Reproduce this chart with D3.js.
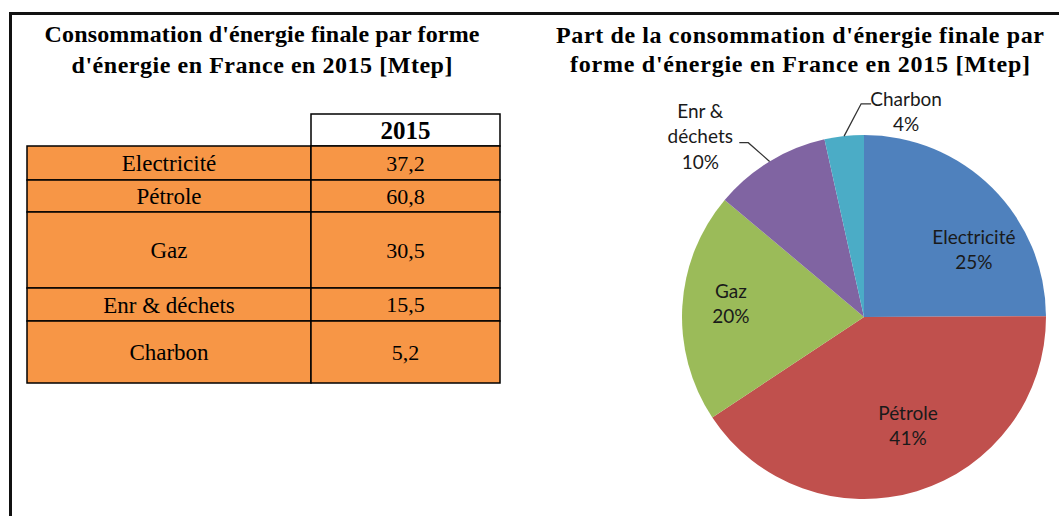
<!DOCTYPE html>
<html>
<head>
<meta charset="utf-8">
<script src="https://cdn.jsdelivr.net/npm/d3@7"></script>
<style>
  html, body { margin: 0; padding: 0; background: #fff; }
  svg { display: block; }
</style>
</head>
<body>
<svg id="chart"></svg>
<script>
// data
const energies = ["Electricité", "Pétrole", "Gaz", "Enr & déchets", "Charbon"];
const values2015 = [37.2, 60.8, 30.5, 15.5, 5.2];
const valueLabels = ["37,2", "60,8", "30,5", "15,5", "5,2"];
const pctLabels = ["25%", "41%", "20%", "10%", "4%"];
const tableYear = "2015";
const leftTitle = ["Consommation d'énergie finale par forme", "d'énergie en France en 2015 [Mtep]"];
const rightTitle = ["Part de la consommation d'énergie finale par", "forme d'énergie en France en 2015 [Mtep]"];

// layout
const w = 1059, h = 516;
const colors = ["#4F81BD", "#C0504D", "#9BBB59", "#8064A2", "#4BACC6"];
const rowHeights = [34, 32, 76, 33, 62];

const svg = d3.select("#chart")
  .attr("width", w)
  .attr("height", h);

// frame
svg.append("path")
  .attr("d", `M10.5,${h} V13.5 H${w}`)
  .attr("fill", "none")
  .attr("stroke", "#111")
  .attr("stroke-width", 3);

// titles
const serif = "'Liberation Serif', 'Times New Roman', serif";
function title(lines, cx, baselines, widths) {
  svg.append("g").selectAll("text")
    .data(lines)
    .join("text")
      .attr("x", cx)
      .attr("y", (d, i) => baselines[i])
      .attr("text-anchor", "middle")
      .attr("font-family", serif)
      .attr("font-weight", "bold")
      .attr("font-size", 24)
      .attr("textLength", (d, i) => widths[i])
      .attr("lengthAdjust", "spacing")
      .attr("fill", "#000")
      .text(d => d);
}
title(leftTitle, 262, [42, 73], [435, 381]);
title(rightTitle, 800, [43, 72], [488, 460]);

// table
const tblX = 27, colX = 311, tblR = 500, headTop = 114, headBot = 146;
const rowTops = [];
rowHeights.reduce((acc, v) => { rowTops.push(acc); return acc + v; }, headBot);

const table = svg.append("g");
table.append("rect")
  .attr("x", colX).attr("y", headTop)
  .attr("width", tblR - colX).attr("height", headBot - headTop)
  .attr("fill", "#fff").attr("stroke", "#000").attr("stroke-width", 1.5);
table.append("text")
  .attr("x", (colX + tblR) / 2).attr("y", (headTop + headBot) / 2)
  .attr("dy", "0.35em")
  .attr("text-anchor", "middle")
  .attr("font-family", serif).attr("font-weight", "bold").attr("font-size", 25)
  .text(tableYear);

const rows = table.selectAll("g.row")
  .data(energies)
  .join("g")
    .attr("class", "row")
    .attr("transform", (d, i) => `translate(0,${rowTops[i]})`);
rows.append("rect")
  .attr("x", tblX).attr("width", colX - tblX)
  .attr("height", (d, i) => rowHeights[i])
  .attr("fill", "#F79646").attr("stroke", "#000").attr("stroke-width", 1.5);
rows.append("rect")
  .attr("x", colX).attr("width", tblR - colX)
  .attr("height", (d, i) => rowHeights[i])
  .attr("fill", "#F79646").attr("stroke", "#000").attr("stroke-width", 1.5);
rows.append("text")
  .attr("x", (tblX + colX) / 2)
  .attr("y", (d, i) => rowHeights[i] / 2)
  .attr("dy", "0.35em")
  .attr("text-anchor", "middle")
  .attr("font-family", serif).attr("font-size", 23)
  .text(d => d);
rows.append("text")
  .attr("x", (colX + tblR) / 2)
  .attr("y", (d, i) => rowHeights[i] / 2)
  .attr("dy", "0.35em")
  .attr("text-anchor", "middle")
  .attr("font-family", serif).attr("font-size", 22)
  .text((d, i) => valueLabels[i]);

// pie
const cx = 864, cy = 317, r = 182;
const pieData = energies.map((name, i) => ({ name, value: values2015[i], pct: pctLabels[i], i }));
const arcs = d3.pie().sort(null).value(d => d.value)(pieData);
const arc = d3.arc().innerRadius(0).outerRadius(r);
const inArc = d3.arc().innerRadius(r * 0.7).outerRadius(r * 0.7);
const edgeArc = d3.arc().innerRadius(r).outerRadius(r);
const outArc = d3.arc().innerRadius(r * 1.3).outerRadius(r * 1.3);

const pie = svg.append("g").attr("transform", `translate(${cx},${cy})`);
pie.selectAll("path.slice")
  .data(arcs)
  .join("path")
    .attr("class", "slice")
    .attr("d", arc)
    .attr("fill", d => colors[d.data.i]);

// label placement tweaks (Excel "best fit")
const labelLayout = {
  "Electricité": { nudge: [20, 23] },
  "Pétrole": { nudge: [7, -13] },
  "Gaz": { nudge: [-6, -6] },
  "Enr & déchets": { outside: true, nudge: [-41, 22], lines: ["Enr &", "déchets"], elbow: [48, 6], end: [39, 6] },
  "Charbon": { outside: true, nudge: [68, 30], elbow: [-45, -8], end: [-35, -8] }
};

const lineH = 25.5;
arcs.forEach(d => {
  const lay = labelLayout[d.data.name];
  const base = lay.outside ? outArc.centroid(d) : inArc.centroid(d);
  const lx = base[0] + lay.nudge[0], ly = base[1] + lay.nudge[1];
  const lines = (lay.lines || [d.data.name]).concat([d.data.pct]);
  const t = pie.append("text")
    .attr("text-anchor", "middle")
    .attr("font-family", "Lato, 'Open Sans', sans-serif")
    .attr("font-size", 19)
    .attr("fill", "#1a1a1a");
  lines.forEach((s, k) => {
    t.append("tspan")
      .attr("x", lx)
      .attr("y", ly + (k - (lines.length - 1) / 2) * lineH)
      .attr("dy", "0.35em")
      .text(s);
  });
  if (lay.outside) {
    const e = edgeArc.centroid(d);
    pie.append("polyline")
      .attr("points", [e, [lx + lay.elbow[0], ly + lay.elbow[1]], [lx + lay.end[0], ly + lay.end[1]]].map(p => p.join(",")).join(" "))
      .attr("fill", "none")
      .attr("stroke", "#333")
      .attr("stroke-width", 1.3);
  }
});
</script>
</body>
</html>
